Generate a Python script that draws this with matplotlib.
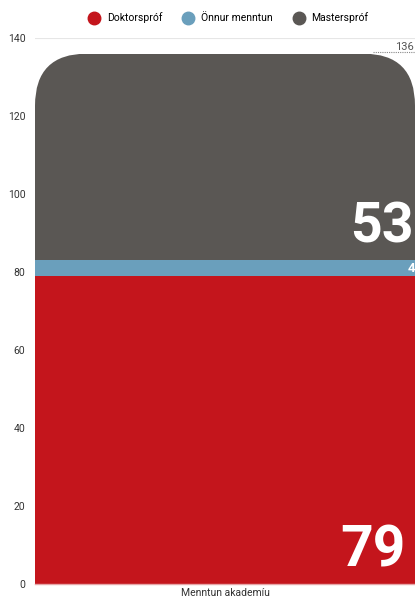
import matplotlib
matplotlib.use("Agg")
import matplotlib.pyplot as plt
from matplotlib.lines import Line2D
from matplotlib.patches import FancyBboxPatch
from matplotlib.transforms import IdentityTransform


category = "Menntun akademíu"
series_names = ["Doktorspróf", "Önnur menntun", "Masterspróf"]
series_values = [79, 4, 53]
series_colors = ["#c4151c", "#6a9fbc", "#5a5754"]
y_ticks = [0, 20, 40, 60, 80, 100, 120, 140]

W, H, DPI = 415, 599, 100
plt.rcParams["font.family"] = ["Roboto", "DejaVu Sans"]

fig = plt.figure(figsize=(W / DPI, H / DPI), dpi=DPI)
ax = fig.add_axes([35 / W, 1 - 584 / H, 380 / W, (584 - 38) / H])

ax.set_xlim(-0.5, 0.5)
ax.set_ylim(0, 140)
ax.set_yticks(y_ticks)
ax.set_xticks([0])
ax.set_xticklabels([category])
ax.tick_params(axis="both", length=0, labelsize=7.5, colors="#333333")
ax.tick_params(axis="y", pad=7)
ax.tick_params(axis="x", pad=3)
for s in ("top", "right", "left"):
    ax.spines[s].set_visible(False)
ax.spines["bottom"].set_color("#e6a6a8")
ax.spines["bottom"].set_linewidth(1)
ax.yaxis.grid(True, color="#e6e6e6", linewidth=0.8)
ax.set_axisbelow(True)

total = sum(series_values)

# rounded top for the stack, built in pixel space
x0, y0 = ax.transData.transform((-0.5, 0))
x1, y1 = ax.transData.transform((0.5, total))
r = 52
clip = FancyBboxPatch((x0, y0 - 100), x1 - x0, (y1 - y0) + 100,
                      boxstyle=f"round,pad=0,rounding_size={r}",
                      transform=IdentityTransform(), facecolor="none",
                      edgecolor="none")

bottom = 0
for name, val, col in zip(series_names, series_values, series_colors):
    bars = ax.bar(0, val, width=1, bottom=bottom, color=col, linewidth=0,
                  zorder=2)
    for b in bars:
        b.set_clip_path(clip)
    bottom += val

# value labels, right aligned near the base of each segment
label_sizes = [41, 9.5, 40]
label_x = [0.476, 0.5, 0.497]
bottom = 0
for val, fs, lx in zip(series_values, label_sizes, label_x):
    if fs > 20:
        ytxt = bottom + 4.5
        va = "baseline"
    else:
        ytxt = bottom + val / 2
        va = "center"
    ax.text(lx, ytxt, str(val), ha="right", va=va, color="white",
            fontsize=fs, fontweight="bold", zorder=3, clip_on=False)
    bottom += val

# total marker
ax.plot([0.39, 0.6], [total + 0.3, total + 0.3], linestyle=(0, (1, 1)),
        color="#888888", linewidth=0.8, clip_on=False, zorder=3)
ax.text(0.447, total + 1.0, str(total), ha="left", va="baseline",
        fontsize=8, color="#555555", clip_on=False)

handles = [Line2D([0], [0], marker="o", linestyle="none", markersize=9,
                  markerfacecolor=c, markeredgecolor=c) for c in series_colors]
fig.legend(handles, series_names, loc="center", bbox_to_anchor=(226 / W, 1 - 18 / H),
           ncol=3, frameon=False, fontsize=7.5, handletextpad=0.2,
           columnspacing=1.5)

fig.savefig("out.png", dpi=DPI)
plt.close(fig)
